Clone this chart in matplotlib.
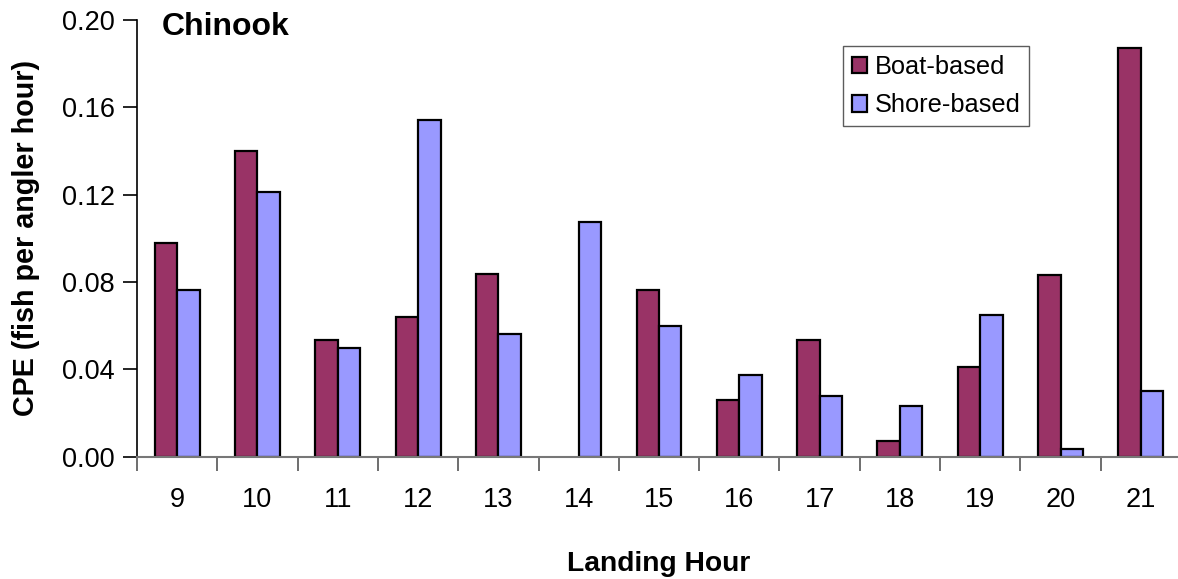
import numpy as np
import matplotlib
matplotlib.use("Agg")
import matplotlib.pyplot as plt

plt.rcParams['font.family'] = ['Liberation Sans', 'DejaVu Sans']

hours = [9, 10, 11, 12, 13, 14, 15, 16, 17, 18, 19, 20, 21]
boat = [0.098, 0.140, 0.0535, 0.064, 0.0837, 0.0, 0.0764, 0.026, 0.0535, 0.0072, 0.0411, 0.0832, 0.187]
shore = [0.0764, 0.1212, 0.0498, 0.1542, 0.0562, 0.1075, 0.0599, 0.0374, 0.0278, 0.0233, 0.0649, 0.0035, 0.0302]

fig = plt.figure(figsize=(11.78, 5.79), dpi=100)
ax = fig.add_axes([137 / 1178, 1 - 456.7 / 579, 1044 / 1178, (456.7 - 20) / 579])

x = np.arange(len(hours))
w = 0.28
b1 = ax.bar(x - w / 2, boat, w, color='#993366', edgecolor='black', linewidth=1.6, label='Boat-based')
b2 = ax.bar(x + w / 2, shore, w, color='#9999FF', edgecolor='black', linewidth=1.6, label='Shore-based')
# empty bars shouldn't leave an outline on the baseline
for bars in (b1, b2):
    for p in bars:
        if p.get_height() == 0:
            p.set_linewidth(0)

ax.set_xlim(-0.5, len(hours) - 0.5)
ax.set_ylim(0, 0.20)
ax.set_yticks(np.arange(0, 0.201, 0.04))
ax.set_yticklabels([f"{v:.2f}" for v in np.arange(0, 0.201, 0.04)])
ax.set_xticks(x)
ax.set_xticklabels([str(h) for h in hours])
ax.set_xticks(np.arange(-0.5, len(hours) - 0.4, 1), minor=True)
ax.tick_params(axis='x', which='major', length=0, pad=22, labelsize=19.5)
ax.tick_params(axis='x', which='minor', length=10, width=1.2, color='#555555')
ax.tick_params(axis='y', length=10, width=1.2, labelsize=19.5, pad=6)

for side in ['top', 'right']:
    ax.spines[side].set_visible(False)
ax.spines['left'].set_linewidth(1.2)
ax.spines['bottom'].set_color('#777777')
ax.spines['bottom'].set_linewidth(1.5)
ax.spines['bottom'].set_zorder(3)

ax.set_ylabel('CPE (fish per angler hour)', fontsize=20.7, fontweight='bold', labelpad=16)
ax.set_xlabel('Landing Hour', fontsize=20.3, fontweight='bold', labelpad=27)
ax.text(0.024, 0.985, 'Chinook', transform=ax.transAxes, fontsize=23, fontweight='bold',
        va='center', ha='left')

leg = ax.legend(loc='upper left', bbox_to_anchor=(693 / 1044, 0.97), fontsize=18.3, frameon=True,
                fancybox=False, edgecolor='#333333', handlelength=0.6, handleheight=0.6,
                handletextpad=0.3, labelspacing=0.58, borderpad=0.35)
leg.get_frame().set_linewidth(1.0)

fig.savefig('out.png', dpi=100)
